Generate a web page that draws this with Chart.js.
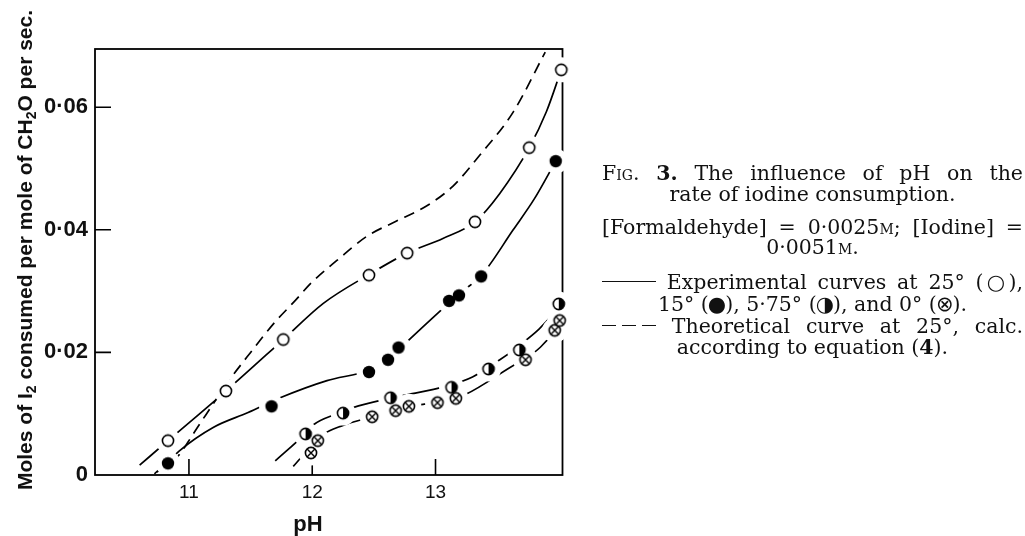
<!DOCTYPE html>
<html>
<head>
<meta charset="utf-8">
<script src="https://cdn.jsdelivr.net/npm/chart.js@4.4.1/dist/chart.umd.min.js"></script>
<style>
html,body{margin:0;padding:0;background:#fff;}
#wrap{position:absolute;left:0;top:0;width:1025px;height:536px;}
.cap{position:absolute;left:602px;width:421px;font-family:"DejaVu Serif","DejaVu Sans",serif;font-size:20.5px;line-height:21px;height:21px;color:#111;}
.j{text-align:justify;text-align-last:justify;}
.c{text-align:center;white-space:nowrap;}
.sc{font-variant:small-caps;}
.sym{font-family:"DejaVu Sans",sans-serif;font-size:21px;line-height:0;margin:0 -1px;}
.solid{display:inline-block;width:54px;height:1.4px;background:#111;vertical-align:0.33em;}
.dash{display:inline-block;width:54px;height:1.5px;vertical-align:0.33em;background-image:linear-gradient(to right,#111 0 14px,transparent 14px 20px);background-size:20px 100%;background-repeat:repeat-x;}
#ytitle{position:absolute;left:-225px;top:238px;width:500px;height:24px;line-height:24px;text-align:center;transform:rotate(-90deg);transform-origin:50% 50%;font-family:"Liberation Sans",Arial,sans-serif;font-weight:bold;font-size:21px;color:#111;white-space:nowrap;}
#ytitle sub{font-size:14px;vertical-align:-4px;line-height:0;}
#xtitle{position:absolute;left:258px;top:512px;width:100px;line-height:24px;text-align:center;font-family:"Liberation Sans",Arial,sans-serif;font-weight:bold;font-size:22px;color:#111;}
</style>
</head>
<body>
<div id="wrap"><canvas id="chart"></canvas></div>
<div id="ytitle">Moles of I<sub>2</sub> consumed per mole of CH<sub>2</sub>O per sec.</div>
<div id="xtitle">pH</div>

<div class="cap j" style="top:163px"><span class="sc">Fig.</span> <b>3.</b> The influence of pH on the</div>
<div class="cap c" style="top:184px">rate of iodine consumption.</div>
<div class="cap j" style="top:217px">[Formaldehyde] = 0·0025<span class="sc">m</span>; [Iodine] =</div>
<div class="cap c" style="top:237px">0·0051<span class="sc">m</span>.</div>
<div class="cap j" style="top:272px"><span class="solid"></span> Experimental curves at 25° (<span class="sym">○</span>),</div>
<div class="cap c" style="top:294px">15° (<span class="sym">●</span>), 5·75° (<span class="sym">◑</span>), and 0° (<span class="sym">⊗</span>).</div>
<div class="cap j" style="top:316px"><span class="dash"></span> Theoretical curve at 25°, calc.</div>
<div class="cap c" style="top:337px">according to equation (<b>4</b>).</div>

<script>
// ---- axis ticks ----
const xTickValues = [11, 12, 13];
const yTickValues = [0, 0.02, 0.04, 0.06];
const yTickLabels = ['0', '0·02', '0·04', '0·06'];

// ---- measured points ----
const pH25   = [10.83, 11.30, 11.765, 12.46, 12.77, 13.32, 13.76, 14.02];
const rate25 = [0.0056, 0.0137, 0.0221, 0.0326, 0.0362, 0.0413, 0.0534, 0.0661];

const pH15   = [10.83, 11.67, 12.46, 12.615, 12.70, 13.11, 13.19, 13.37, 13.975];
const rate15 = [0.0019, 0.0112, 0.0168, 0.0188, 0.0208, 0.0284, 0.0293, 0.0324, 0.0512];

const pH575   = [11.946, 12.25, 12.635, 13.13, 13.43, 13.68, 14.00];
const rate575 = [0.0067, 0.0101, 0.0126, 0.0143, 0.0173, 0.0204, 0.0279];

const pH0   = [11.99, 12.045, 12.486, 12.676, 12.784, 13.016, 13.165, 13.73, 13.967, 14.007];
const rate0 = [0.0036, 0.0056, 0.0095, 0.0105, 0.0112, 0.0118, 0.0125, 0.0188, 0.0236, 0.0252];

const fit25X = [10.60, 10.83, 11.30, 11.765, 12.09, 12.46, 12.77, 13.06, 13.32, 13.52, 13.76, 13.90, 14.02];
const fit25Y = [0.0016, 0.0056, 0.0137, 0.0221, 0.0280, 0.0327, 0.0362, 0.0386, 0.0413, 0.0459, 0.0534, 0.0593, 0.0661];

const fit15X = [10.72, 10.83, 10.92, 11.20, 11.48, 11.74, 12.12, 12.46, 12.62, 12.75, 13.05, 13.20, 13.37, 13.63, 13.80, 13.975];
const fit15Y = [0.0002, 0.0021, 0.0039, 0.0078, 0.0102, 0.0126, 0.0154, 0.0171, 0.0189, 0.0214, 0.0270, 0.0297, 0.0325, 0.0400, 0.0450, 0.0512];

const fit575X = [11.70, 11.946, 12.01, 12.20, 12.33, 12.60, 12.72, 13.09, 13.30, 13.49, 13.64, 13.97, 14.00];
const fit575Y = [0.0023, 0.0068, 0.0082, 0.0100, 0.0110, 0.0124, 0.0129, 0.0145, 0.0160, 0.0184, 0.0205, 0.0268, 0.0279];

const fit0X = [11.846, 11.93, 12.00, 12.08, 12.25, 12.47, 12.68, 12.78, 13.02, 13.165, 13.25, 13.67, 13.73, 13.967, 14.007];
const fit0Y = [0.0014, 0.0033, 0.0047, 0.0065, 0.0081, 0.0094, 0.0105, 0.0111, 0.0119, 0.0126, 0.0132, 0.0183, 0.0189, 0.0236, 0.0252];

// ---- theoretical curve (dashed) ----
const theoryX = [10.74, 10.89, 10.95, 10.99, 11.07, 11.17, 11.31, 11.50, 11.70, 11.85, 12.00, 12.20, 12.44, 12.68, 12.92, 13.14, 13.36, 13.63, 13.89];
const theoryY = [0.0005, 0.0026, 0.0041, 0.0053, 0.0078, 0.0108, 0.0150, 0.0200, 0.0250, 0.0282, 0.0315, 0.0350, 0.0389, 0.0414, 0.0438, 0.0471, 0.0522, 0.0592, 0.0690];

function pts(xs, ys) { return xs.map((x, i) => ({ x: x, y: ys[i] })); }

function makeMarker(kind) {
  const s = 16, c = s / 2, r = 5.6;
  const cv = document.createElement('canvas');
  cv.width = s; cv.height = s;
  const g = cv.getContext('2d');
  g.strokeStyle = '#000'; g.fillStyle = '#fff'; g.lineWidth = 1.6;
  if (kind === 'filled') {
    g.fillStyle = '#000';
    g.beginPath(); g.arc(c, c, 6.2, 0, Math.PI * 2); g.fill();
    return cv;
  }
  g.beginPath(); g.arc(c, c, r, 0, Math.PI * 2); g.fill();
  if (kind === 'half') {
    g.fillStyle = '#000';
    g.beginPath(); g.moveTo(c, c - r); g.arc(c, c, r, -Math.PI / 2, Math.PI / 2); g.closePath(); g.fill();
  }
  g.beginPath(); g.arc(c, c, r, 0, Math.PI * 2); g.stroke();
  if (kind === 'cross') {
    const k = r * 0.707;
    g.lineWidth = 1.4;
    g.beginPath();
    g.moveTo(c - k, c - k); g.lineTo(c + k, c + k);
    g.moveTo(c + k, c - k); g.lineTo(c - k, c + k);
    g.stroke();
  }
  return cv;
}
const mOpen = makeMarker('open'), mFilled = makeMarker('filled'), mHalf = makeMarker('half'), mCross = makeMarker('cross');

function markerSet(label, data, style) {
  return { label: label, data: data, pointStyle: style, pointRadius: 6, pointHoverRadius: 6, showLine: false, clip: false, order: 1 };
}
function curveSet(label, data, dash) {
  return { label: label, data: data, showLine: true, borderColor: '#000', borderWidth: 1.7, borderDash: dash || [],
           pointRadius: 0, pointHoverRadius: 0, cubicInterpolationMode: 'monotone', fill: false, order: 3 };
}

const GAP_RADIUS = 12.5;

function drawFrame(chart) {
  const { ctx, chartArea: a, scales } = chart;
  ctx.save();
  ctx.strokeStyle = '#000';
  ctx.lineWidth = 1.8;
  ctx.strokeRect(a.left, a.top, a.right - a.left, a.bottom - a.top);
  ctx.lineWidth = 1.6;
  ctx.beginPath();
  xTickValues.forEach(v => { const px = scales.x.getPixelForValue(v); ctx.moveTo(px, a.bottom); ctx.lineTo(px, a.bottom - 16); });
  yTickValues.forEach(v => { if (v === 0) return; const py = scales.y.getPixelForValue(v); ctx.moveTo(a.left, py); ctx.lineTo(a.left + 16, py); });
  ctx.stroke();
  ctx.restore();
}

// white gaps around every plotted point so the curves (and the right frame edge) break there
function drawGaps(chart) {
  const ctx = chart.ctx, a = chart.chartArea;
  const xs = chart.scales.x, ys = chart.scales.y;
  const sets = [[pH25, rate25], [pH15, rate15], [pH575, rate575], [pH0, rate0]];
  ctx.save();
  ctx.beginPath();
  ctx.rect(a.left + 1.5, a.top + 1.5, a.right - a.left + 20, a.bottom - a.top - 3);
  ctx.clip();
  ctx.fillStyle = '#ffffff';
  sets.forEach(function (s) {
    const px = s[0], py = s[1];
    px.forEach(function (v, i) {
      ctx.beginPath();
      ctx.arc(xs.getPixelForValue(v), ys.getPixelForValue(py[i]), GAP_RADIUS, 0, Math.PI * 2);
      ctx.fill();
    });
  });
  ctx.restore();
}

const framePlugin = {
  id: 'frame',
  beforeDatasetsDraw(chart) { drawFrame(chart); },
  // curves (order 3) are drawn before the point sets (order 1); dataset 4 is the last curve drawn
  afterDatasetDraw(chart, args) { if (args.index === 4) drawGaps(chart); }
};

new Chart(document.getElementById('chart'), {
  type: 'scatter',
  data: {
    datasets: [
      markerSet('25°', pts(pH25, rate25), mOpen),
      markerSet('15°', pts(pH15, rate15), mFilled),
      markerSet('5·75°', pts(pH575, rate575), mHalf),
      markerSet('0°', pts(pH0, rate0), mCross),
      curveSet('25° curve', pts(fit25X, fit25Y)),
      curveSet('15° curve', pts(fit15X, fit15Y)),
      curveSet('5·75° curve', pts(fit575X, fit575Y)),
      curveSet('0° curve', pts(fit0X, fit0Y)),
      curveSet('Theoretical 25°', pts(theoryX, theoryY), [11, 7])
    ]
  },
  options: {
    responsive: true, maintainAspectRatio: false, animation: false, events: [],
    layout: { padding: { left: 0, top: 49, right: 462.5, bottom: 0 } },
    plugins: { legend: { display: false }, tooltip: { enabled: false } },
    scales: {
      x: {
        type: 'linear', min: 10.238, max: 14.03,
        grid: { display: false, drawTicks: false }, border: { display: false },
        afterBuildTicks: s => { s.ticks = xTickValues.map(v => ({ value: v })); },
        afterFit: s => { s.height = 61; },
        ticks: { padding: 6, color: '#111', font: { family: 'Liberation Sans', size: 19 }, callback: v => String(v) }
      },
      y: {
        type: 'linear', min: 0, max: 0.0695,
        grid: { display: false, drawTicks: false }, border: { display: false },
        afterBuildTicks: s => { s.ticks = yTickValues.map(v => ({ value: v })); },
        afterFit: s => { s.width = 95; },
        ticks: { padding: 7, color: '#111', font: { family: 'Liberation Sans', size: 22, weight: 'bold' },
                 callback: v => { const i = yTickValues.indexOf(v); return i >= 0 ? yTickLabels[i] : ''; } }
      }
    }
  },
  plugins: [framePlugin]
});
</script>
</body>
</html>
